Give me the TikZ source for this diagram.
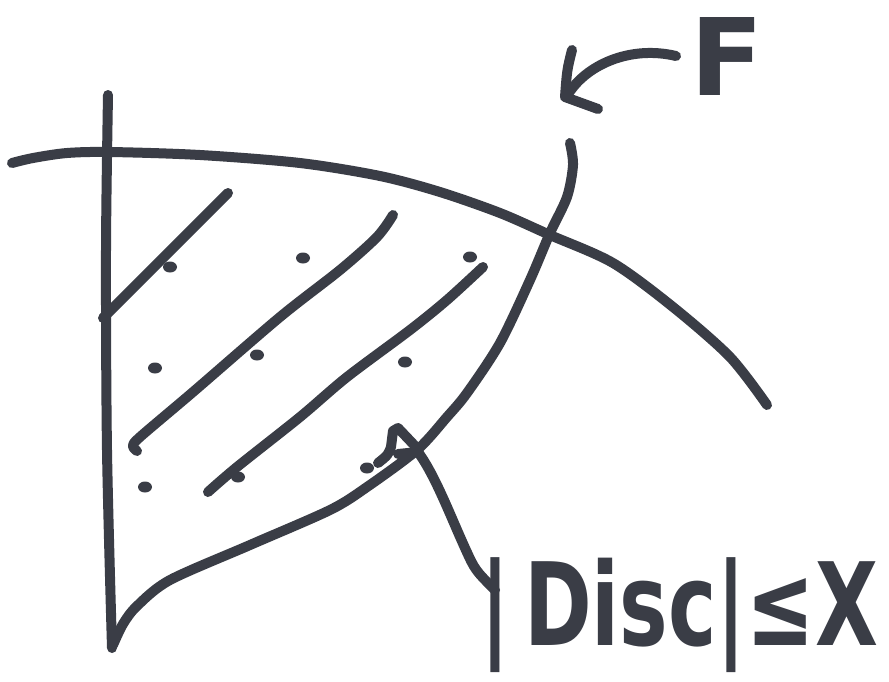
\documentclass[tikz,border=0pt]{standalone}
\usepackage{fontspec}
\usepackage{graphicx}
\usetikzlibrary{calc}
\newfontfamily\handfont{DejaVu Sans}
\definecolor{ink}{RGB}{58,61,70}
\begin{document}
\begin{tikzpicture}[x=1pt,y=-1pt,
  stroke/.style={draw=ink,line width=10pt,line cap=round,line join=round},
  handtext/.style={text=ink,inner sep=0pt,font=\handfont\bfseries}]
\useasboundingbox[fill=white] (0,0) rectangle (889,681);

% vertical axis
\draw[stroke] plot[smooth] coordinates {(108,95) (106,250) (107,450) (112,648)};
% top curve
\draw[stroke] plot[smooth] coordinates {(12,163) (33,158) (67,153) (110,152) (200,155) (300,163) (380,176) (440,192) (500,213) (550,235) (613,263) (673,307) (730,357) (767,405)};
% right / lower boundary curve
\draw[stroke] plot[smooth] coordinates {(570,143) (573,165) (567,197) (550,233) (530,280) (500,343) (467,393) (447,417) (417,450) (367,487) (330,510) (250,545) (170,580) (137,606) (123,624) (113,645)};

% hatching
\draw[stroke] (228,193) -- (103,318);
\draw[stroke] plot[smooth] coordinates {(393,215) (377,237) (340,270) (280,317) (193,392) (140,437) (133,446) (137,451)};
\draw[stroke] plot[smooth] coordinates {(483,267) (447,300) (410,330) (347,377) (300,417) (237,467) (208,492)};

% dots
\foreach \p in {(170,267),(303,258),(470,257),(155,368),(257,355),(405,362),(145,487),(238,477),(367,468)}
  \fill[ink] \p ellipse [x radius=7pt, y radius=5.5pt];

% labels
\node[handtext, anchor=base west] (F) at (690,95) {\fontsize{107}{107}\selectfont F};
\node[handtext, anchor=base west] (lab) at (480,645) {\fontsize{115}{115}\selectfont\scalebox{0.71}[1]{|\kern20pt Disc|≤X}};

% arrow from F
\coordinate (tip) at (567,96);
\draw[stroke] ($(F.west)+(-14,0)$) .. controls (630,45) and (585,65) .. (tip);
\draw[stroke] (572,50) .. controls (567,70) .. (565,97) -- (598,109);

% pointer to |Disc| label
\draw[stroke] (378,463) .. controls (388,455) .. (391,447) -- (393,431) -- (398,428) -- (416,447);
\draw[stroke] (398,454) -- (418,452) .. controls (435,475) and (450,515) .. (465,548) .. controls (475,570) .. ($(lab.base west)+(15,-55)$);
\end{tikzpicture}
\end{document}
